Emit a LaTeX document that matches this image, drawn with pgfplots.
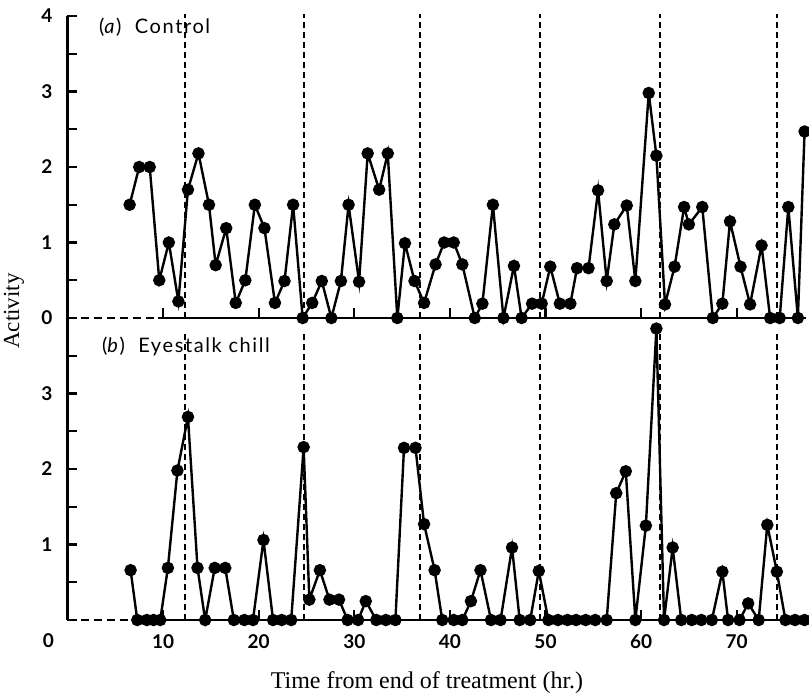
\documentclass[border=0pt]{standalone}
\usepackage{pgfplots}
\pgfplotsset{compat=1.18}
\usepackage{pgfplotstable}
\usepackage{fontspec}
\setmainfont{Liberation Serif}
\newfontfamily\gill[LetterSpace=8]{Lato}
\newfontfamily\gilln{Lato}

\pgfplotstableread{
t y
6.5 1.5
7.5 2.0
8.6 2.0
9.6 0.5
10.6 1.0
11.6 0.22
12.6 1.7
13.7 2.18
14.8 1.5
15.5 0.7
16.6 1.19
17.6 0.2
18.6 0.5
19.6 1.5
20.6 1.19
21.7 0.2
22.7 0.49
23.6 1.5
24.6 0
25.6 0.2
26.6 0.49
27.6 0
28.6 0.49
29.4 1.5
30.5 0.48
31.4 2.18
32.6 1.7
33.5 2.18
34.5 0
35.3 0.99
36.3 0.49
37.3 0.2
38.5 0.71
39.4 1.0
40.4 1.0
41.3 0.71
42.6 0
43.4 0.19
44.5 1.5
45.6 0
46.7 0.69
47.5 0
48.6 0.19
49.6 0.19
50.5 0.68
51.5 0.19
52.6 0.19
53.3 0.66
54.5 0.66
55.5 1.69
56.4 0.49
57.2 1.24
58.5 1.49
59.4 0.49
60.8 2.98
61.6 2.15
62.5 0.18
63.5 0.68
64.5 1.47
65.0 1.24
66.4 1.47
67.5 0
68.5 0.19
69.3 1.28
70.4 0.68
71.4 0.18
72.6 0.96
73.5 0
74.5 0
75.4 1.47
76.4 0
77.1 2.47
}\control

\pgfplotstableread{
t y
6.6 0.66
7.3 0
8.3 0
9.0 0
9.7 0
10.5 0.69
11.5 1.98
12.6 2.69
13.6 0.69
14.4 0
15.4 0.69
16.5 0.69
17.4 0
18.5 0
19.4 0
20.5 1.06
21.5 0
22.4 0
23.4 0
24.7 2.29
25.3 0.27
26.4 0.66
27.4 0.27
28.4 0.27
29.3 0
30.4 0
31.2 0.25
32.3 0
33.3 0
34.3 0
35.2 2.28
36.4 2.28
37.3 1.27
38.4 0.66
39.2 0
40.4 0
41.3 0
42.2 0.25
43.2 0.66
44.3 0
45.3 0
46.5 0.96
47.3 0
48.4 0
49.3 0.65
50.3 0
51.3 0
52.3 0
53.2 0
54.2 0
55.2 0
56.4 0
57.4 1.68
58.4 1.97
59.4 0
60.5 1.25
61.6 3.86
62.4 0
63.3 0.96
64.2 0
65.3 0
66.3 0
67.4 0
68.5 0.64
69.1 0
70.3 0
71.2 0.22
72.3 0
73.2 1.26
74.2 0.64
75.1 0
76.1 0
77.1 0
}\chill

\begin{document}
\begin{tikzpicture}
\pgfplotsset{
  panel/.style={
    x=4.78pt, y=37.75pt, xmin=0, xmax=77.3, ymin=0, ymax=4,
    axis lines*=left, x axis line style={draw=none},
    y axis line style={line width=1.2pt},
    tick align=inside, major tick length=5pt, minor tick length=5pt,
    tick style={line width=1.1pt, black},
    xtick={10,20,...,70}, ytick={0,1,2,3,4}, minor ytick={0.5,1.5,2.5,3.5},
    /pgf/number format/assume math mode=true,
    tick label style={font=\gilln\bfseries\fontsize{9.5}{11}\selectfont},
    yticklabel style={xshift=-4pt},
    xticklabel style={yshift=-4pt},
    clip=false,
  },
  dat/.style={line width=1.2pt, black, mark=*, mark size=2.5pt, mark options={solid}},
  tide/.style={line width=0.9pt, black, dash pattern=on 3pt off 2pt, forget plot},
}
% (a) control
\begin{axis}[panel, at={(0,0)}, xticklabels={}]
\addplot[line width=1.1pt, dash pattern=on 4pt off 2.5pt] coordinates {(0,0) (9.5,0)};
\addplot[line width=1.2pt] coordinates {(9.5,0) (77.3,0)};
\addplot[tide] coordinates {(12.3,0) (12.3,4.03)};
\addplot[tide] coordinates {(24.7,0) (24.7,4.03)};
\addplot[tide] coordinates {(36.9,0) (36.9,4.03)};
\addplot[tide] coordinates {(49.4,0) (49.4,4.03)};
\addplot[tide] coordinates {(62.0,0) (62.0,4.03)};
\addplot[tide] coordinates {(74.2,0) (74.2,4.03)};
\addplot[dat] table[x=t, y=y] {\control};
\node[anchor=west, font=\gill\fontsize{10}{12}\selectfont] at (axis cs:2.56,3.85) {(\textit{a})\ \ Control};
\node[rotate=90, font=\fontsize{11.5}{13}\selectfont] at ([shift={(-26.75pt,3.5pt)}]axis cs:0,0) {Activity};
\end{axis}
% (b) eyestalk chill
\begin{axis}[panel, at={(0,-151pt)}, yticklabels={,1,2,3,}]
\addplot[line width=1.1pt, dash pattern=on 4pt off 2.5pt] coordinates {(0,0) (7.0,0)};
\addplot[line width=1.2pt] coordinates {(7.0,0) (77.3,0)};
\addplot[tide] coordinates {(12.3,0) (12.3,3.8)};
\addplot[tide] coordinates {(24.7,0) (24.7,3.8)};
\addplot[tide] coordinates {(36.9,0) (36.9,3.8)};
\addplot[tide] coordinates {(49.4,0) (49.4,3.8)};
\addplot[tide] coordinates {(62.0,0) (62.0,3.8)};
\addplot[tide] coordinates {(74.2,0) (74.2,3.8)};
\addplot[dat] table[x=t, y=y] {\chill};
\node[anchor=west, font=\gill\fontsize{10}{12}\selectfont] at (axis cs:2.87,3.62) {(\textit{b})\ \ Eyestalk chill};
\node[font=\gilln\bfseries\fontsize{9.5}{11}\selectfont] at ([shift={(-9.5pt,-10.5pt)}]axis cs:0,0) {0};
\node[font=\fontsize{12}{14}\selectfont] at ([yshift=-31.5pt]axis cs:37.6,0) {Time from end of treatment (hr.)};
\end{axis}
\pgfresetboundingbox
\path (-33.75pt,159pt) rectangle (370.75pt,-190pt);
\end{tikzpicture}
\end{document}
